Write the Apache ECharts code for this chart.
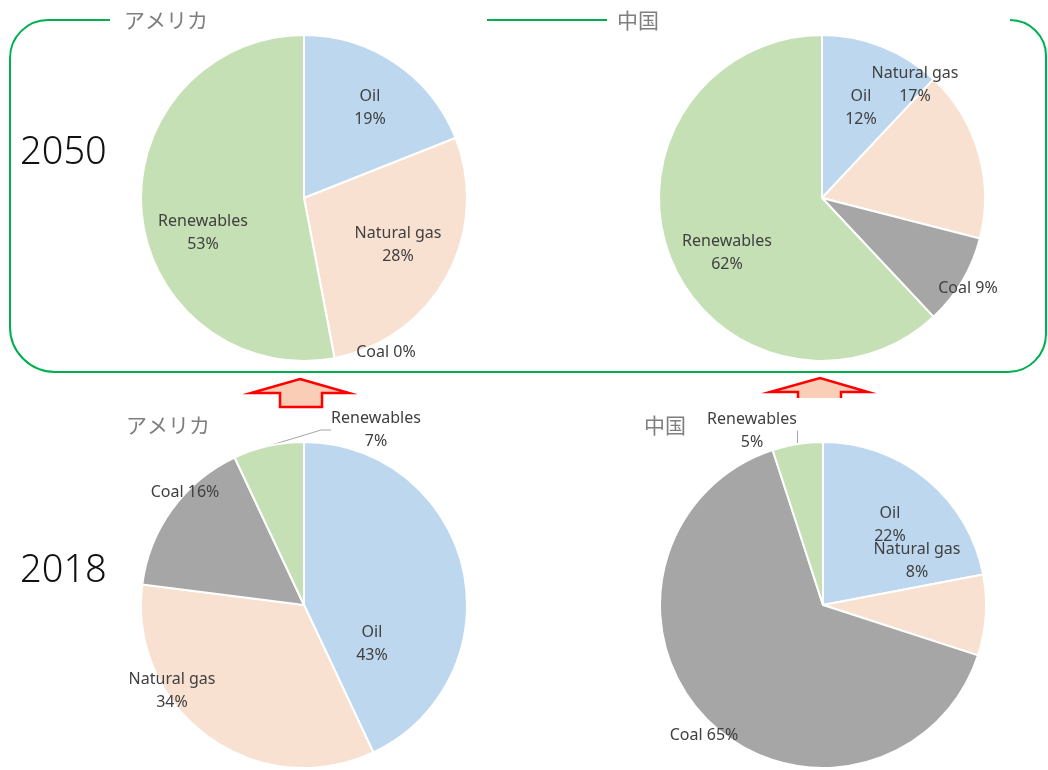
<!DOCTYPE html>
<html>
<head>
<meta charset="utf-8">
<script src="https://cdn.jsdelivr.net/npm/echarts@6/dist/echarts.min.js"></script>
<style>
  html, body { margin: 0; padding: 0; background: #ffffff; }
  #chart { width: 1048px; height: 770px; }
</style>
</head>
<body>
<div id="chart"></div>
<script>
// Energy mix shares (%), slices in clockwise order from 12 o'clock
const sources = ['Oil', 'Natural gas', 'Coal', 'Renewables'];
const usa2050 = [19, 28, 0, 53];
const china2050 = [12, 17, 9, 62];
const usa2018 = [43, 34, 16, 7];
const china2018 = [22, 8, 65, 5];

const countryUSA = 'アメリカ';
const countryChina = '中国';
const yearLabels = ['2050', '2018'];

// Styling
const sliceColors = ['#BDD7EE', '#F9E1D2', '#A6A6A6', '#C5E0B4'];
const frameGreen = '#00B050';
const pieRadius = 163;

// Panel layout: pie centre and label offsets (relative to the centre)
const panels = [
  { values: usa2050,   cx: 304, cy: 198, offsets: [[66, -90], [94, 47], [82, 154], [-101, 35]],   guide: -1 },
  { values: china2050, cx: 822, cy: 198, offsets: [[39, -90], [93, -113], [146, 90], [-95, 55]],   guide: -1 },
  { values: usa2018,   cx: 304, cy: 605, offsets: [[68, 39], [-132, 86], [-119, -113], [72, -175]], guide: 3 },
  { values: china2018, cx: 823, cy: 605, offsets: [[67, -80], [94, -44], [-119, 130], [-71, -174]], guide: 3 }
];

function labelText(p) {
  return p.name === 'Coal' ? p.name + ' ' + p.value + '%' : p.name + '\n' + p.value + '%';
}

const series = panels.map(function (p) {
  return {
    type: 'pie',
    center: [p.cx, p.cy],
    radius: pieRadius,
    startAngle: 90,
    clockwise: true,
    avoidLabelOverlap: false,
    silent: true,
    animation: false,
    itemStyle: { borderColor: '#ffffff', borderWidth: 2 },
    label: {
      show: true,
      position: 'outside',
      formatter: labelText,
      color: '#404040',
      fontFamily: '"Noto Sans", sans-serif',
      fontSize: 16,
      lineHeight: 23,
      align: 'center'
    },
    labelLine: { show: false },
    data: p.values.map(function (v, i) {
      return {
        name: sources[i],
        value: v,
        itemStyle: { color: sliceColors[i] },
        labelLine: i === p.guide
          ? { show: true, length: 10, length2: 10, lineStyle: { color: '#A6A6A6', width: 1 } }
          : { show: false }
      };
    }),
    labelLayout: function (params) {
      const o = p.offsets[params.dataIndex];
      return { x: p.cx + o[0], y: p.cy + o[1], align: 'center', verticalAlign: 'middle' };
    }
  };
});

// Rounded frame around the 2050 row (open at the top where the titles sit)
const frameStyle = { stroke: frameGreen, lineWidth: 2, fill: null };
function seg(x1, y1, x2, y2) {
  return { type: 'line', shape: { x1: x1, y1: y1, x2: x2, y2: y2 }, style: frameStyle, silent: true };
}
function corner(cx, cy, r, a0, a1) {
  return { type: 'arc', shape: { cx: cx, cy: cy, r: r, startAngle: a0, endAngle: a1, clockwise: true }, style: frameStyle, silent: true };
}
const PI = Math.PI;
const frame = [
  corner(48, 58, 38, PI, 1.5 * PI),
  seg(48, 20, 110, 20),
  seg(487, 20, 607, 20),
  corner(1010, 56, 36, 1.5 * PI, 2 * PI),
  seg(1046, 56, 1046, 334),
  corner(1008, 334, 38, 0, 0.5 * PI),
  seg(1008, 372, 55, 372),
  corner(55, 327, 45, 0.5 * PI, PI),
  seg(10, 327, 10, 58)
];

// Hollow "up" arrows between the rows
const arrowFill = '#F9CDB6';
const arrowRed = '#FF0000';
const arrows = [
  {
    type: 'polygon', silent: true,
    shape: { points: [[300, 379], [349, 393], [322, 393], [322, 407], [280, 407], [280, 393], [251, 393]] },
    style: { fill: arrowFill, stroke: arrowRed, lineWidth: 2.5, lineJoin: 'miter' }
  },
  {
    type: 'polygon', silent: true,
    shape: { points: [[820, 378], [868, 392], [841, 392], [841, 398], [798, 398], [798, 392], [770, 392]] },
    style: { fill: arrowFill }
  },
  {
    type: 'polyline', silent: true,
    shape: { points: [[798, 398], [798, 392], [770, 392], [820, 378], [868, 392], [841, 392], [841, 398]] },
    style: { stroke: arrowRed, lineWidth: 2.5, fill: null, lineJoin: 'miter' }
  }
];

function txt(x, y, s, font, fill) {
  return { type: 'text', x: x, y: y, silent: true,
    style: { text: s, font: font, fill: fill, align: 'left', verticalAlign: 'middle' } };
}
const cjkFont = '21px "Noto Sans CJK JP", sans-serif';
const yearFont = '300 38px "Noto Sans", sans-serif';
const titles = [
  txt(20, 153, yearLabels[0], yearFont, '#111111'),
  txt(20, 571, yearLabels[1], yearFont, '#111111'),
  txt(124, 20, countryUSA, cjkFont, '#7F7F7F'),
  txt(617, 20, countryChina, cjkFont, '#7F7F7F'),
  txt(126, 425, countryUSA, cjkFont, '#7F7F7F'),
  txt(644, 425, countryChina, cjkFont, '#7F7F7F')
];

const chart = echarts.init(document.getElementById('chart'), null, { renderer: 'canvas' });
chart.setOption({
  backgroundColor: '#ffffff',
  animation: false,
  series: series,
  graphic: { elements: frame.concat(arrows, titles) }
});
</script>
</body>
</html>
